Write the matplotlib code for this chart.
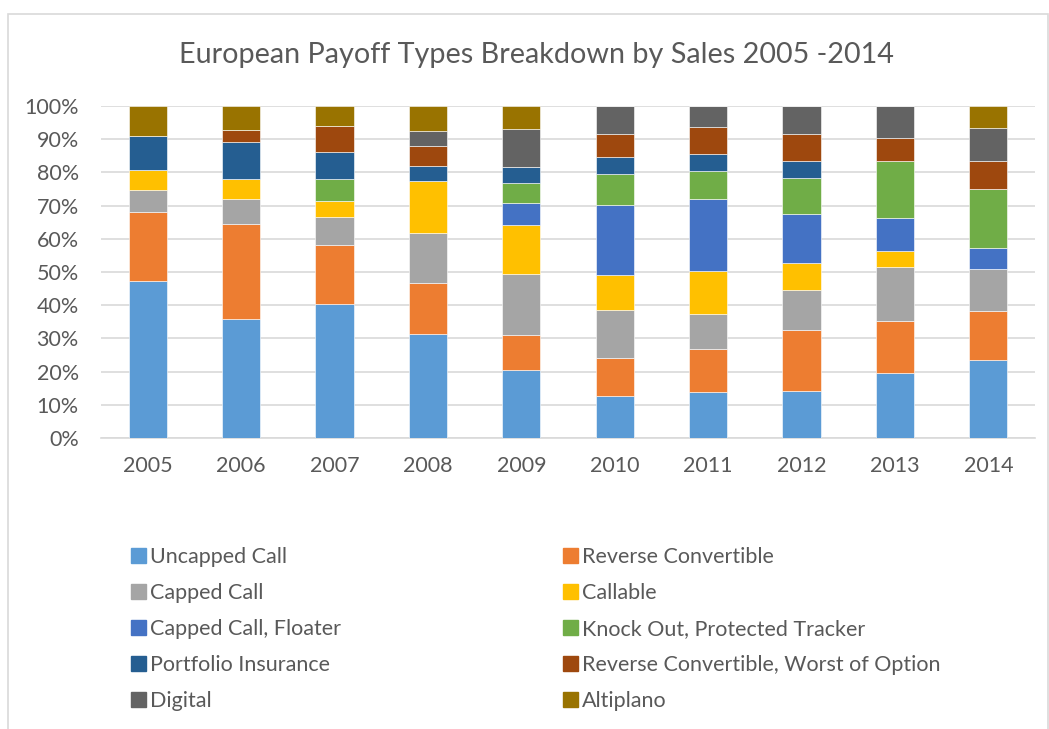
import numpy as np
import matplotlib.pyplot as plt
from matplotlib.patches import Rectangle, Patch

years = ["2005", "2006", "2007", "2008", "2009", "2010", "2011", "2012", "2013", "2014"]
series = ["Uncapped Call", "Reverse Convertible", "Capped Call", "Callable",
          "Capped Call, Floater", "Knock Out, Protected Tracker", "Portfolio Insurance",
          "Reverse Convertible, Worst of Option", "Digital", "Altiplano"]
colors = ["#5B9BD5", "#ED7D31", "#A5A5A5", "#FFC000", "#4472C4",
          "#70AD47", "#255E91", "#9E480E", "#636363", "#997300"]

# share in % per year
uncapped_call   = [47.3, 35.8, 40.3, 31.3, 20.4, 12.6, 13.9, 14.1, 19.6, 23.5]
reverse_conv    = [20.9, 28.7, 17.7, 15.3, 10.6, 11.4, 12.9, 18.4, 15.6, 14.9]
capped_call     = [6.6, 7.6, 8.7, 15.0, 18.5, 14.6, 10.5, 12.2, 16.3, 12.6]
callable_       = [5.9, 5.9, 4.7, 15.7, 14.6, 10.4, 12.9, 7.9, 4.8, 0.0]
capped_floater  = [0.0, 0.0, 0.0, 0.0, 6.8, 21.1, 21.7, 14.8, 9.9, 6.2]
knock_out       = [0.0, 0.0, 6.5, 0.0, 5.9, 9.3, 8.5, 10.9, 17.2, 17.7]
portfolio_ins   = [10.2, 11.1, 8.2, 4.7, 4.9, 5.3, 5.1, 5.0, 0.0, 0.0]
rc_worst_of     = [0.0, 3.6, 7.8, 5.8, 0.0, 6.8, 8.3, 8.2, 6.9, 8.5]
digital         = [0.0, 0.0, 0.0, 4.7, 11.3, 8.5, 6.2, 8.5, 9.7, 10.1]
altiplano       = [9.1, 7.3, 6.1, 7.5, 7.0, 0.0, 0.0, 0.0, 0.0, 6.5]

data = [uncapped_call, reverse_conv, capped_call, callable_, capped_floater,
        knock_out, portfolio_ins, rc_worst_of, digital, altiplano]

txt = "#595959"
plt.rcParams['font.family'] = ['Lato', 'DejaVu Sans']

fig = plt.figure(figsize=(10.49, 7.29), dpi=100)
ax = fig.add_axes([0.0963, 0.3992, 0.8904, 0.4554])

x = np.arange(len(years))
bottom = np.zeros(len(years))
for name, vals, c in zip(series, data, colors):
    v = np.array(vals) / 100.0
    ax.bar(x, v, 0.41, bottom=bottom, color=c, label=name,
           edgecolor="white", linewidth=0.4, zorder=3)
    bottom += v

ax.set_xlim(-0.5, len(years) - 0.5)
ax.set_ylim(0, 1.0)
ax.set_yticks(np.arange(0, 1.01, 0.1))
ax.set_yticklabels([f"{int(round(t*100))}%" for t in np.arange(0, 1.01, 0.1)])
ax.set_xticks(x)
ax.set_xticklabels(years)
ax.tick_params(length=0, labelsize=15.5, colors=txt)
ax.tick_params(axis="y", pad=16)
ax.tick_params(axis="x", pad=13)
ax.grid(axis="y", color="#D9D9D9", linewidth=1.2, zorder=0)
for s in ["top", "right", "left"]:
    ax.spines[s].set_visible(False)
ax.spines["bottom"].set_color("#D9D9D9")
ax.spines["bottom"].set_linewidth(1.2)

fig.text(0.5114, 0.9246, "European Payoff Types Breakdown by Sales 2005 -2014",
         ha="center", va="center", fontsize=20.7, color=txt)

# chart border
fig.add_artist(Rectangle((8/1049, -0.05), 1040/1049, 1.05 - 14/729,
                         transform=fig.transFigure, fill=False,
                         edgecolor="#D9D9D9", linewidth=1.2))

handles = [Patch(color=c) for c in colors]
for col, xpos in [(0, 0.1065), (1, 0.5185)]:
    idx = list(range(col, 10, 2))
    leg = fig.legend([handles[i] for i in idx], [series[i] for i in idx],
                     loc="upper left", bbox_to_anchor=(xpos, 0.2768),
                     frameon=False, fontsize=15.5, handlelength=0.7,
                     handleheight=0.7, handletextpad=0.17, labelspacing=0.745)
    for t in leg.get_texts():
        t.set_color(txt)

fig.savefig("out.png", dpi=100)
